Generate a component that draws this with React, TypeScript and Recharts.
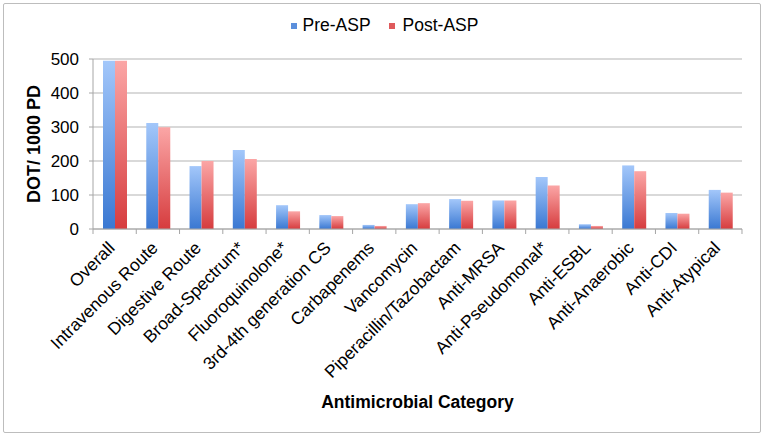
import React from "react";
import { Bar, BarChart, CartesianGrid, Label, Legend, XAxis, YAxis } from "recharts";

const categories = [
  "Overall",
  "Intravenous Route",
  "Digestive Route",
  "Broad-Spectrum*",
  "Fluoroquinolone*",
  "3rd-4th generation CS",
  "Carbapenems",
  "Vancomycin",
  "Piperacillin/Tazobactam",
  "Anti-MRSA",
  "Anti-Pseudomonal*",
  "Anti-ESBL",
  "Anti-Anaerobic",
  "Anti-CDI",
  "Anti-Atypical",
];
const preAsp = [495, 312, 185, 232, 70, 41, 12, 73, 88, 84, 153, 14, 187, 47, 115];
const postAsp = [495, 299, 200, 206, 52, 38, 9, 76, 83, 84, 128, 9, 170, 45, 107];
const yTicks = [0, 100, 200, 300, 400, 500];

const data = categories.map((name, i) => ({ name, pre: preAsp[i], post: postAsp[i] }));

const W = 763;
const H = 436;
const MARGIN = { top: 59, right: 21, bottom: 0, left: 0 };
const Y_AXIS_W = 93;
const X_AXIS_H = 207;
const BAND = (W - MARGIN.left - MARGIN.right - Y_AXIS_W) / categories.length;
const FONT = "'Liberation Sans', Arial, Helvetica, sans-serif";
const AXIS = "#a6a6a6";

function CategoryTick(props: any) {
  const { x, y, payload, index } = props;
  const half = BAND / 2;
  return (
    <g transform={`translate(${x},${y})`}>
      <line x1={-half} y1={0} x2={-half} y2={5} stroke={AXIS} />
      {index === categories.length - 1 && <line x1={half} y1={0} x2={half} y2={5} stroke={AXIS} />}
      <text
        x={0}
        y={0}
        transform="translate(1,20) rotate(-45)"
        textAnchor="end"
        fontSize={17.5}
        fontFamily={FONT}
        fill="#000"
      >
        {payload.value}
      </text>
    </g>
  );
}

function LegendBox(props: any) {
  const items = [
    { label: "Pre-ASP", color: "#5b8fdc" },
    { label: "Post-ASP", color: "#df5a5c" },
  ];
  return (
    <div style={{ display: "flex", justifyContent: "center", paddingLeft: 6, fontFamily: FONT, fontSize: 17.5, color: "#000" }}>
      {items.map((it, i) => (
        <div key={it.label} style={{ display: "flex", alignItems: "center", marginLeft: i ? 18 : 0 }}>
          <span style={{ width: 6, height: 6, background: it.color, marginRight: i ? 8 : 6, display: "inline-block" }} />
          <span>{it.label}</span>
        </div>
      ))}
    </div>
  );
}

export default function App() {
  return (
    <div style={{ position: "absolute", left: 0, top: 0, width: W, height: H, background: "#fff" }}>
      <div
        style={{
          position: "absolute",
          left: 3,
          top: 3,
          width: 756,
          height: 428,
          border: "1px solid #bdbdbd",
          borderRadius: 2,
        }}
      />
      <BarChart
        width={W}
        height={H}
        data={data}
        margin={MARGIN}
        barGap={0}
        barSize={12}
        style={{ position: "absolute", left: 0, top: 0 }}
      >
        <defs>
          <linearGradient id="preGrad" x1="0" y1="0" x2="0" y2="1">
            <stop offset="0%" stopColor="#a3c7fa" />
            <stop offset="100%" stopColor="#3a78d2" />
          </linearGradient>
          <linearGradient id="postGrad" x1="0" y1="0" x2="0" y2="1">
            <stop offset="0%" stopColor="#fba6a6" />
            <stop offset="100%" stopColor="#d63c3e" />
          </linearGradient>
        </defs>
        <CartesianGrid vertical={false} stroke="#b4b4b4" strokeWidth={1.2} />
        <XAxis
          dataKey="name"
          height={X_AXIS_H}
          interval={0}
          tickLine={false}
          tickSize={0}
          tickMargin={0}
          axisLine={{ stroke: AXIS }}
          tick={<CategoryTick />}
        >
          <Label
            value="Antimicrobial Category"
            position="insideBottom"
            offset={28}
            style={{ fontFamily: FONT, fontSize: 17.5, fontWeight: "bold", fill: "#000" }}
          />
        </XAxis>
        <YAxis
          width={Y_AXIS_W}
          domain={[0, 500]}
          ticks={yTicks}
          tickSize={4}
          tickMargin={10}
          tickLine={{ stroke: AXIS }}
          axisLine={{ stroke: AXIS }}
          tick={{ fontSize: 17, fontFamily: FONT, fill: "#000" }}
        >
          <Label
            content={(p: any) => {
              const vb = p.viewBox;
              const cx = 34;
              const cy = vb.y + vb.height / 2;
              return (
                <text
                  x={cx}
                  y={cy}
                  transform={`rotate(-90, ${cx}, ${cy})`}
                  textAnchor="middle"
                  dominantBaseline="central"
                  fontFamily={FONT}
                  fontSize={18}
                  fontWeight="bold"
                  fill="#000"
                >
                  DOT/ 1000 PD
                </text>
              );
            }}
          />
        </YAxis>
        <Legend
          verticalAlign="middle"
          content={<LegendBox />}
          wrapperStyle={{ top: 15, left: 0, width: W }}
        />
        <Bar dataKey="pre" name="Pre-ASP" fill="url(#preGrad)" isAnimationActive={false} />
        <Bar dataKey="post" name="Post-ASP" fill="url(#postGrad)" isAnimationActive={false} />
      </BarChart>
    </div>
  );
}
